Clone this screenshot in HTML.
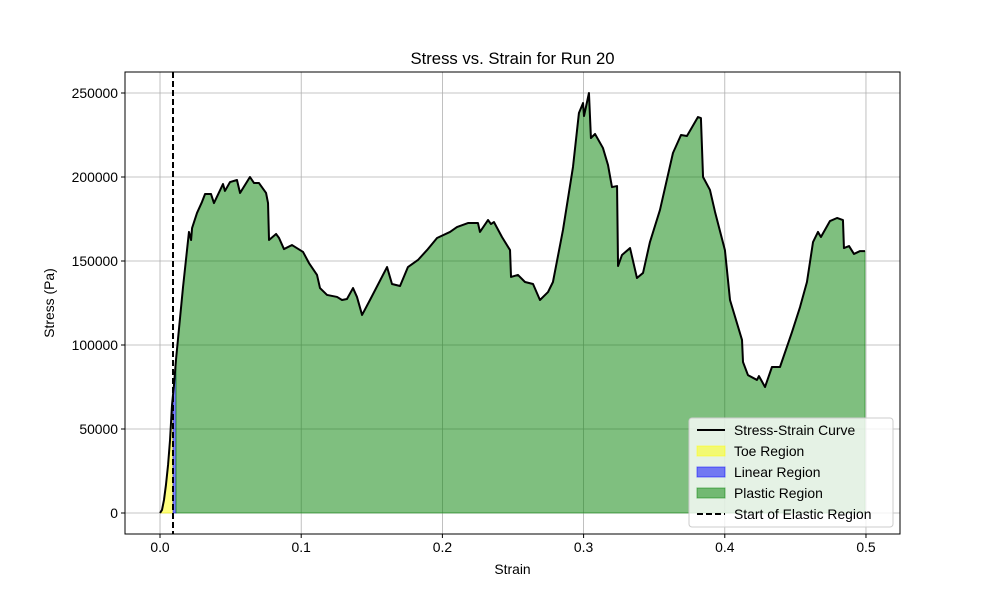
<!DOCTYPE html>
<html><head><meta charset="utf-8"><style>
body{margin:0;background:#fff;}
svg{display:block;font-family:"Liberation Sans","DejaVu Sans",sans-serif;}
</style></head><body>
<svg id="chart" width="1000" height="600" viewBox="0 0 1000 600"></svg>
<script>
const strain=[0,.0014,.0028,.0042,.0057,.0071,.0085,.0099,.0113,.0163,.0205,.0220,.0227,.0262,.0297,.0319,.0361,.0382,.0446,.0460,.0496,.0545,.0567,.0637,.0666,.0701,.0751,.0765,.0772,.0822,.0843,.0878,.0935,.1013,.1055,.1112,.1133,.1183,.1254,.1289,.1324,.1367,.1395,.1431,.1487,.1608,.1643,.1700,.1756,.1827,.1891,.1962,.2054,.2103,.2181,.2252,.2266,.2323,.2344,.2365,.2422,.2479,.2486,.2535,.2585,.2642,.2691,.2748,.2783,.2854,.2925,.2967,.2996,.3003,.3038,.3052,.3081,.3137,.3173,.3201,.3237,.3244,.3272,.3329,.3378,.3421,.3470,.3541,.3633,.3690,.3732,.3810,.3831,.3846,.3895,.3931,.4001,.4037,.4122,.4129,.4164,.4228,.4242,.4285,.4334,.4391,.4476,.4533,.4582,.4625,.4660,.4681,.4745,.4795,.4837,.4844,.4880,.4915,.4958,.4993];
const stress=[0,1800,7700,16700,28600,43500,64300,76200,91100,134500,167300,162500,169600,178600,185100,189900,189900,184500,195800,191700,197000,198200,190500,200000,196400,196400,190500,184500,162500,166100,163700,157100,159500,155400,148800,141700,133900,129800,128600,126800,127400,133900,128600,117900,126800,146400,136300,135100,146400,150600,156500,163700,167300,170200,172600,172600,167300,174400,172000,173200,164300,156500,140500,141700,137500,136300,126800,131500,137500,168500,206000,238100,244000,236300,250000,223200,225600,217300,207100,194000,194600,147000,153600,157700,139900,142900,161300,180400,214300,225000,224400,235700,235100,200000,192300,179200,156500,126800,103000,89900,82100,79200,81500,75000,86900,86900,107700,122600,137500,161300,167300,164300,173800,175600,174400,157700,158900,154200,155900,155900];
const xTicks=[0,0.1,0.2,0.3,0.4,0.5];
const xTickLabels=["0.0","0.1","0.2","0.3","0.4","0.5"];
const yTicks=[0,50000,100000,150000,200000,250000];
const yTickLabels=["0","50000","100000","150000","200000","250000"];
const toeEnd=0.0092, linearEnd=0.0113;
const elasticStart=0.0092;

const L=125,R=900,T=72,B=534;
const xMin=-0.0248,xMax=0.5241,yMin=-12500,yMax=262500;
const X=v=>L+(v-xMin)/(xMax-xMin)*(R-L);
const Y=v=>B-(v-yMin)/(yMax-yMin)*(B-T);
const NS="http://www.w3.org/2000/svg";
const svg=document.getElementById('chart');
function mk(tag,attrs,parent){const e=document.createElementNS(NS,tag);for(const k in attrs)e.setAttribute(k,attrs[k]);(parent||svg).appendChild(e);return e;}

xTicks.forEach((t,i)=>{
 const g=mk('line',{x1:X(t),x2:X(t),y1:T,y2:B,stroke:'#b0b0b0','stroke-width':0.8});
 
 
});
yTicks.forEach((t,i)=>{
 const g=mk('line',{x1:L,x2:R,y1:Y(t),y2:Y(t),stroke:'#b0b0b0','stroke-width':0.8});
 
 
});

function interp(x){for(let i=1;i<strain.length;i++){if(strain[i]>=x){const a=strain[i-1],b=strain[i];const f=(x-a)/(b-a);return stress[i-1]+f*(stress[i]-stress[i-1]);}}return stress[stress.length-1];}
function areaPath(x0,x1){
 let pts=[[x0,interp(x0)]];
 for(let i=0;i<strain.length;i++)if(strain[i]>x0&&strain[i]<x1)pts.push([strain[i],stress[i]]);
 pts.push([x1,interp(x1)]);
 let d='M'+X(x0)+','+Y(0);
 pts.forEach(p=>d+=' L'+X(p[0]).toFixed(2)+','+Y(p[1]).toFixed(2));
 d+=' L'+X(x1)+','+Y(0)+' Z';return d;
}
const toe=mk('path',{d:areaPath(0,toeEnd),fill:'#ffff00','fill-opacity':0.5,stroke:'#ffff00','stroke-opacity':0.5});


const lin=mk('path',{d:areaPath(toeEnd,linearEnd),fill:'#0000ff','fill-opacity':0.5,stroke:'#0000ff','stroke-opacity':0.5});


const pla=mk('path',{d:areaPath(linearEnd,strain[strain.length-1]),fill:'#008000','fill-opacity':0.5,stroke:'#008000','stroke-opacity':0.5});



let d='';strain.forEach((s,i)=>d+=(i?' L':'M')+X(s).toFixed(2)+','+Y(stress[i]).toFixed(2));
const curve=mk('path',{d:d,fill:'none',stroke:'#000','stroke-width':2,'stroke-linejoin':'round'});



const ev=mk('line',{x1:X(elasticStart),x2:X(elasticStart),y1:T,y2:B,stroke:'#000','stroke-width':2,'stroke-dasharray':'6,3'});



const fr=mk('rect',{x:L,y:T,width:R-L,height:B-T,fill:'none',stroke:'#000','stroke-width':1});



xTicks.forEach((t,i)=>{
 mk('line',{x1:X(t),x2:X(t),y1:B,y2:B+4,stroke:'#000'});
 const tx=mk('text',{x:X(t),y:B+18,'text-anchor':'middle','font-size':13.9,fill:'#000'});
 tx.textContent=xTickLabels[i];
 
 
});
yTicks.forEach((t,i)=>{
 mk('line',{x1:L-4,x2:L,y1:Y(t),y2:Y(t),stroke:'#000'});
 const tx=mk('text',{x:L-7,y:Y(t)+5,'text-anchor':'end','font-size':13.9,fill:'#000'});
 tx.textContent=yTickLabels[i];
 
 
});
const xt=mk('text',{x:(L+R)/2,y:574,'text-anchor':'middle','font-size':13.9});xt.textContent='Strain';


const yt=mk('text',{x:0,y:0,'text-anchor':'middle','font-size':13.9,transform:'translate(54,303) rotate(-90)'});yt.textContent='Stress (Pa)';


const ti=mk('text',{x:(L+R)/2,y:64,'text-anchor':'middle','font-size':16.7});ti.textContent='Stress vs. Strain for Run 20';



const lg=mk('g',{});


mk('rect',{x:689,y:418,width:204,height:109,rx:3,fill:'#fff','fill-opacity':0.8,stroke:'#ccc'},lg);
const items=[['line','Stress-Strain Curve'],['#ffff00','Toe Region'],['#0000ff','Linear Region'],['#008000','Plastic Region'],['dash','Start of Elastic Region']];
items.forEach((it,i)=>{
 const y=430+i*21;
 const g=mk('g',{},lg);
 
 
 if(it[0]==='line')mk('line',{x1:697,x2:725,y1:y,y2:y,stroke:'#000','stroke-width':2},g);
 else if(it[0]==='dash')mk('line',{x1:697,x2:725,y1:y,y2:y,stroke:'#000','stroke-width':2,'stroke-dasharray':'6,3'},g);
 else mk('rect',{x:697,y:y-5,width:28,height:10,fill:it[0],'fill-opacity':0.5,stroke:it[0],'stroke-opacity':0.5},g);
 const t=mk('text',{x:734,y:y+5,'font-size':13.9},g);t.textContent=it[1];
});
</script>
</body></html>
